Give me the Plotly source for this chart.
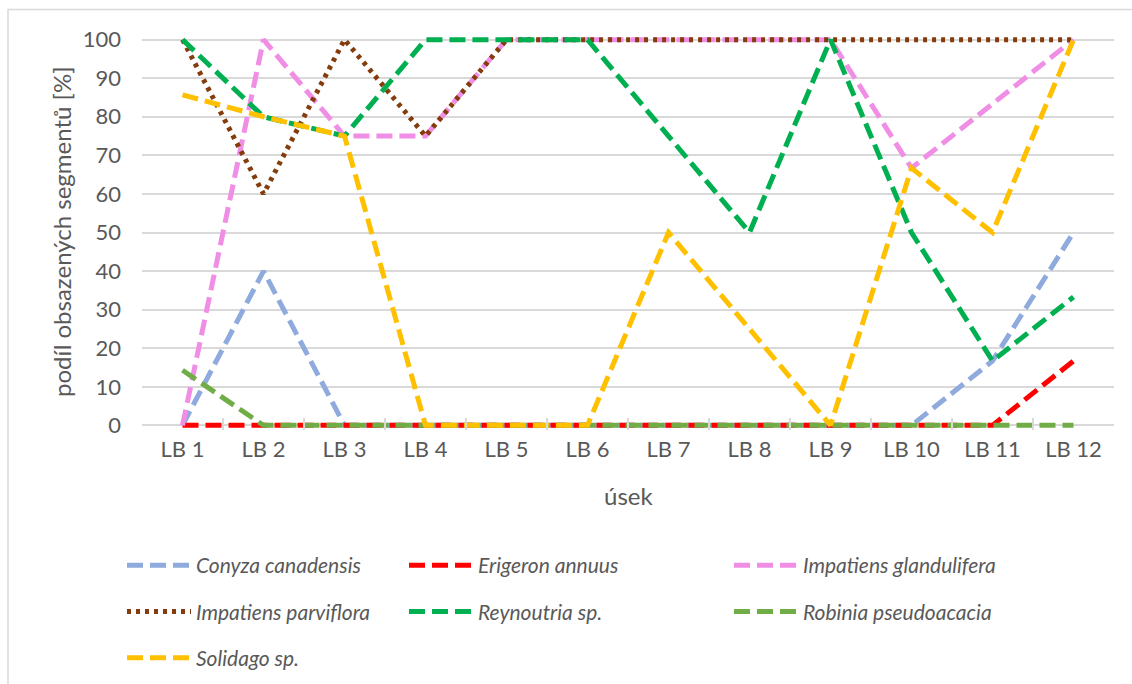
import plotly.graph_objects as go

# Sections along the stream
categories = ["LB 1", "LB 2", "LB 3", "LB 4", "LB 5", "LB 6",
              "LB 7", "LB 8", "LB 9", "LB 10", "LB 11", "LB 12"]

# Share of occupied segments [%] per species
conyza_canadensis = [0, 40, 0, 0, 0, 0, 0, 0, 0, 0, 16.7, 50]
erigeron_annuus = [0, 0, 0, 0, 0, 0, 0, 0, 0, 0, 0, 16.7]
impatiens_glandulifera = [0, 100, 75, 75, 100, 100, 100, 100, 100, 66.7, 83.3, 100]
impatiens_parviflora = [100, 60, 100, 75, 100, 100, 100, 100, 100, 100, 100, 100]
reynoutria_sp = [100, 80, 75, 100, 100, 100, 75, 50, 100, 50, 16.7, 33.3]
robinia_pseudoacacia = [14.3, 0, 0, 0, 0, 0, 0, 0, 0, 0, 0, 0]
solidago_sp = [85.7, 80, 75, 0, 0, 0, 50, 25, 0, 66.7, 50, 100]

x_title = "úsek"
y_title = "podíl obsazených segmentů [%]"

FONT = "Lato"
TXT = "#595959"
DASH = "16px,7px"

series = [
    ("Conyza canadensis", conyza_canadensis, "#8FAADC", DASH, "legend"),
    ("Erigeron annuus", erigeron_annuus, "#FF0000", DASH, "legend2"),
    ("Impatiens glandulifera", impatiens_glandulifera, "#F08EE6", DASH, "legend3"),
    ("Impatiens parviflora", impatiens_parviflora, "#843C0C", "4px,5px", "legend"),
    ("Reynoutria sp.", reynoutria_sp, "#00B050", DASH, "legend2"),
    ("Robinia pseudoacacia", robinia_pseudoacacia, "#70AD47", DASH, "legend3"),
    ("Solidago sp.", solidago_sp, "#FFC000", DASH, "legend"),
]

fig = go.Figure()
for name, vals, color, dash, leg in series:
    fig.add_trace(go.Scatter(
        x=categories, y=vals, mode="lines", name=name,
        legendgroup=name, legend=leg,
        line=dict(color=color, width=5, dash=dash),
        hoverinfo="x+y+name",
    ))

W, H = 1132, 684
Y_LO, Y_HI = -1.2, 101.2          # small padding so lines at 0 and 100 are not clipped
Y100_PX, Y0_PX = 40, 425          # vertical pixel rows of the 100 and 0 gridlines
px_per_unit = (Y0_PX - Y100_PX) / 100
T = Y100_PX - (Y_HI - 100) * px_per_unit
B = H - (Y0_PX - Y_LO * px_per_unit)
L, R = 142, 18

def leg_cfg(x_px):
    return dict(
        xref="container", yref="container",
        x=x_px / W, y=1 - 545 / H, xanchor="left", yanchor="top",
        orientation="v", itemwidth=64, tracegroupgap=16,
        font=dict(family=FONT, size=21, color=TXT, style="italic"),
        bgcolor="rgba(0,0,0,0)", itemclick=False, itemdoubleclick=False,
    )

# Pixel positions converted to paper units of the plot area
pw = W - L - R
ph = H - T - B
def px_to_paper_x(px):
    return (px - L) / pw
def px_to_paper_y(py):
    return (H - B - py) / ph

fig.update_layout(
    width=W, height=H,
    margin=dict(l=L, r=R, t=T, b=B, autoexpand=False),
    paper_bgcolor="white", plot_bgcolor="white",
    font=dict(family=FONT, size=21, color=TXT),
    showlegend=True,
    legend=leg_cfg(122),
    legend2=leg_cfg(404),
    legend3=leg_cfg(729),
    xaxis=dict(
        type="category", range=[-0.5, 11.5], automargin=False,
        showgrid=False, showline=False,
        ticks="inside", tickson="boundaries", ticklen=12, tickcolor="#D9D9D9",
        tickwidth=1.5, tickangle=0, ticklabelstandoff=4,
        tickfont=dict(family=FONT, size=22, color=TXT),
    ),
    yaxis=dict(
        range=[Y_LO, Y_HI], tick0=0, dtick=10, showgrid=True,
        gridcolor="#D9D9D9", gridwidth=1.5,
        zeroline=False, showline=False, ticks="", automargin=False,
        ticklabelstandoff=20,
        tickfont=dict(family=FONT, size=22, color=TXT),
    ),
    annotations=[
        dict(text=x_title, xref="paper", yref="paper",
             x=px_to_paper_x(628), y=px_to_paper_y(495),
             xanchor="center", yanchor="middle", showarrow=False,
             font=dict(family=FONT, size=24, color=TXT)),
        dict(text=y_title, xref="paper", yref="paper", textangle=-90,
             x=px_to_paper_x(62), y=px_to_paper_y(232),
             xanchor="center", yanchor="middle", showarrow=False,
             font=dict(family=FONT, size=24, color=TXT)),
    ],
    shapes=[dict(
        type="rect", xref="paper", yref="paper", layer="below",
        x0=px_to_paper_x(8), x1=px_to_paper_x(1140),
        y0=px_to_paper_y(700), y1=px_to_paper_y(10),
        line=dict(color="#D9D9D9", width=1.5), fillcolor="rgba(0,0,0,0)",
    )],
)

fig.write_html("out.html")
